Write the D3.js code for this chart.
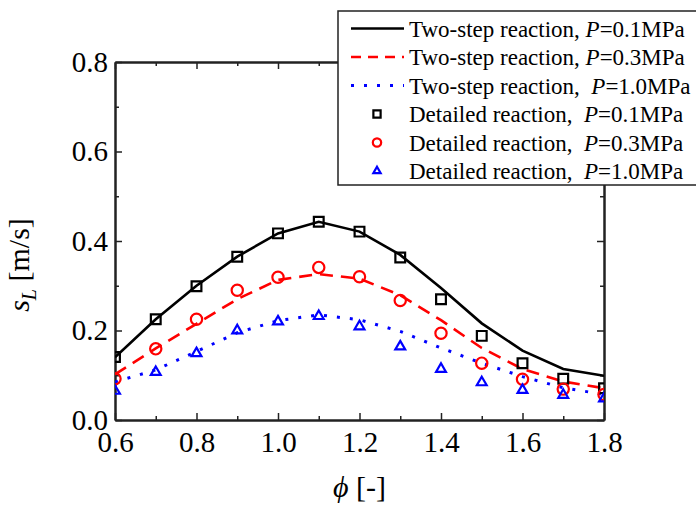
<!DOCTYPE html>
<html>
<head>
<meta charset="utf-8">
<script src="https://cdn.jsdelivr.net/npm/d3@7"></script>
<style>
  body { margin: 0; background: #fff; }
  svg { font-family: "Liberation Serif", "Times New Roman", serif; }
  .legend text { white-space: pre; }
</style>
</head>
<body>
<div id="chart"></div>
<script>
// equivalence ratio
var phi = [0.6, 0.7, 0.8, 0.9, 1.0, 1.1, 1.2, 1.3, 1.4, 1.5, 1.6, 1.7, 1.8];

// two-step reaction (lines)
var twoStep01 = [0.140, 0.225, 0.300, 0.365, 0.417, 0.443, 0.421, 0.369, 0.295, 0.216, 0.155, 0.114, 0.099];
var twoStep03 = [0.102, 0.160, 0.215, 0.270, 0.313, 0.326, 0.316, 0.279, 0.223, 0.161, 0.114, 0.086, 0.071];
var twoStep10 = [0.085, 0.112, 0.153, 0.195, 0.222, 0.235, 0.224, 0.198, 0.161, 0.127, 0.097, 0.072, 0.057];

// detailed reaction (markers)
var detailed01 = [0.141, 0.225, 0.299, 0.365, 0.417, 0.443, 0.421, 0.363, 0.270, 0.188, 0.127, 0.092, 0.071];
var detailed03 = [0.092, 0.159, 0.225, 0.290, 0.319, 0.341, 0.320, 0.267, 0.194, 0.127, 0.091, 0.069, 0.057];
var detailed10 = [0.065, 0.107, 0.149, 0.200, 0.220, 0.232, 0.209, 0.164, 0.114, 0.084, 0.067, 0.056, 0.048];

var xTicks = [0.6, 0.8, 1.0, 1.2, 1.4, 1.6, 1.8];
var xMinor = [0.7, 0.9, 1.1, 1.3, 1.5, 1.7];
var yTicks = [0.0, 0.2, 0.4, 0.6, 0.8];
var yMinor = [0.1, 0.3, 0.5, 0.7];

var legendLabels = [
  ["Two-step reaction, ", "P", "=0.1MPa"],
  ["Two-step reaction, ", "P", "=0.3MPa"],
  ["Two-step reaction,  ", "P", "=1.0MPa"],
  ["Detailed reaction,  ", "P", "=0.1MPa"],
  ["Detailed reaction,  ", "P", "=0.3MPa"],
  ["Detailed reaction,  ", "P", "=1.0MPa"]
];

// SVG setup
var W = 696, H = 513;
var margin = {top: 62, right: 92, bottom: 93, left: 115},
width = W - margin.left - margin.right,
height = H - margin.top - margin.bottom

var svg = d3.select("#chart")
.append("svg")
.attr("width", W)
.attr("height", H)

var g = svg.append("g")
.attr("transform", "translate(" + margin.left + "," + margin.top + ")")

var x = d3.scaleLinear().domain([0.6, 1.8]).range([0, width]);
var y = d3.scaleLinear().domain([0, 0.8]).range([height, 0]);

svg.append("defs").append("clipPath").attr("id", "plotclip")
  .append("rect").attr("width", width).attr("height", height);

var fmt = d3.format(".1f");
var tickFont = 29;

// axes, ticks inward
function drawAxis(axis, tx, ty, showLabels) {
  var a = g.append("g")
    .attr("transform", "translate(" + tx + "," + ty + ")")
    .call(axis);
  a.select(".domain").attr("stroke", "#222").attr("stroke-width", 2);
  a.selectAll(".tick line").attr("stroke", "#222").attr("stroke-width", 1.5);
  a.selectAll(".tick text")
    .attr("fill", "#000")
    .style("font-size", tickFont + "px")
    .style("font-family", "'Liberation Serif', 'Times New Roman', serif")
    .style("display", showLabels ? null : "none");
  return a;
}

drawAxis(d3.axisBottom(x).tickValues(xTicks).tickFormat(fmt).tickSizeInner(-7).tickSizeOuter(0).tickPadding(11), 0, height, true);
drawAxis(d3.axisBottom(x).tickValues(xMinor).tickFormat("").tickSizeInner(-4).tickSizeOuter(0), 0, height, false);

drawAxis(d3.axisTop(x).tickValues(xTicks).tickFormat("").tickSizeInner(-7).tickSizeOuter(0), 0, 0, false);
drawAxis(d3.axisTop(x).tickValues(xMinor).tickFormat("").tickSizeInner(-4).tickSizeOuter(0), 0, 0, false);

var leftAxis = drawAxis(d3.axisLeft(y).tickValues(yTicks).tickFormat(fmt).tickSizeInner(-7).tickSizeOuter(0).tickPadding(7), 0, 0, true);
leftAxis.selectAll(".tick text").attr("dy", "0.32em");
drawAxis(d3.axisLeft(y).tickValues(yMinor).tickFormat("").tickSizeInner(-4).tickSizeOuter(0), 0, 0, false);

drawAxis(d3.axisRight(y).tickValues(yTicks).tickFormat("").tickSizeInner(-7).tickSizeOuter(0), width, 0, false);
drawAxis(d3.axisRight(y).tickValues(yMinor).tickFormat("").tickSizeInner(-4).tickSizeOuter(0), width, 0, false);

// series
var lineSeries = [
  {vals: twoStep01, color: "#000", dash: null, w: 2.6},
  {vals: twoStep03, color: "#f00", dash: "13,8", w: 2.6},
  {vals: twoStep10, color: "#00f", dash: "3,10", w: 3}
];
var markerSeries = [
  {vals: detailed01, color: "#000", sym: d3.symbolSquare, size: 95},
  {vals: detailed03, color: "#f00", sym: d3.symbolCircle, size: 100},
  {vals: detailed10, color: "#00f", sym: d3.symbolTriangle, size: 42}
];

var plot = g.append("g").attr("clip-path", "url(#plotclip)");

var line = d3.line()
  .x(function(d, i) { return x(phi[i]); })
  .y(function(d) { return y(d); });

lineSeries.forEach(function(s) {
  plot.append("path")
    .datum(s.vals)
    .attr("d", line)
    .attr("fill", "none")
    .attr("stroke", s.color)
    .attr("stroke-width", s.w)
    .attr("stroke-dasharray", s.dash);
});

markerSeries.forEach(function(s) {
  plot.selectAll(null)
    .data(s.vals)
    .join("path")
      .attr("d", d3.symbol().type(s.sym).size(s.size))
      .attr("transform", function(d, i) { return "translate(" + x(phi[i]) + "," + y(d) + ")"; })
      .attr("fill", "none")
      .attr("stroke", s.color)
      .attr("stroke-width", 2.2);
});

// axis titles
svg.append("text")
  .attr("x", margin.left + width / 2)
  .attr("y", 497)
  .attr("text-anchor", "middle")
  .style("font-size", "30px")
  .html('<tspan font-style="italic">&#981;</tspan> [-]');

svg.append("text")
  .attr("transform", "translate(29,265) rotate(-90)")
  .attr("text-anchor", "middle")
  .style("font-size", "30px")
  .html('<tspan font-style="italic">s</tspan><tspan font-style="italic" font-size="20px" dy="7">L</tspan><tspan dy="-7"> [m/s]</tspan>');

// legend
var legend = svg.append("g").attr("class", "legend");
legend.append("rect")
  .attr("x", 338).attr("y", 11)
  .attr("width", 380).attr("height", 174)
  .attr("fill", "#fff")
  .attr("stroke", "#222")
  .attr("stroke-width", 1.5);

var rowY = d3.scalePoint().domain(d3.range(6)).range([28.5, 171]);

lineSeries.forEach(function(s, i) {
  legend.append("line")
    .attr("x1", 351).attr("x2", 404)
    .attr("y1", rowY(i)).attr("y2", rowY(i))
    .attr("stroke", s.color)
    .attr("stroke-width", s.w)
    .attr("stroke-dasharray", s.dash === "13,8" ? "10,7" : s.dash);
});
markerSeries.forEach(function(s, i) {
  legend.append("path")
    .attr("d", d3.symbol().type(s.sym).size(s.size * 0.55))
    .attr("transform", "translate(377," + rowY(i + 3) + ")")
    .attr("fill", "none")
    .attr("stroke", s.color)
    .attr("stroke-width", 2.2);
});

legendLabels.forEach(function(lab, i) {
  var t = legend.append("text")
    .attr("x", 409)
    .attr("y", rowY(i) + 8)
    .attr("xml:space", "preserve")
    .style("font-size", "23px");
  t.append("tspan").text(lab[0]);
  t.append("tspan").attr("font-style", "italic").text(lab[1]);
  t.append("tspan").text(lab[2]);
});
</script>
</body>
</html>
